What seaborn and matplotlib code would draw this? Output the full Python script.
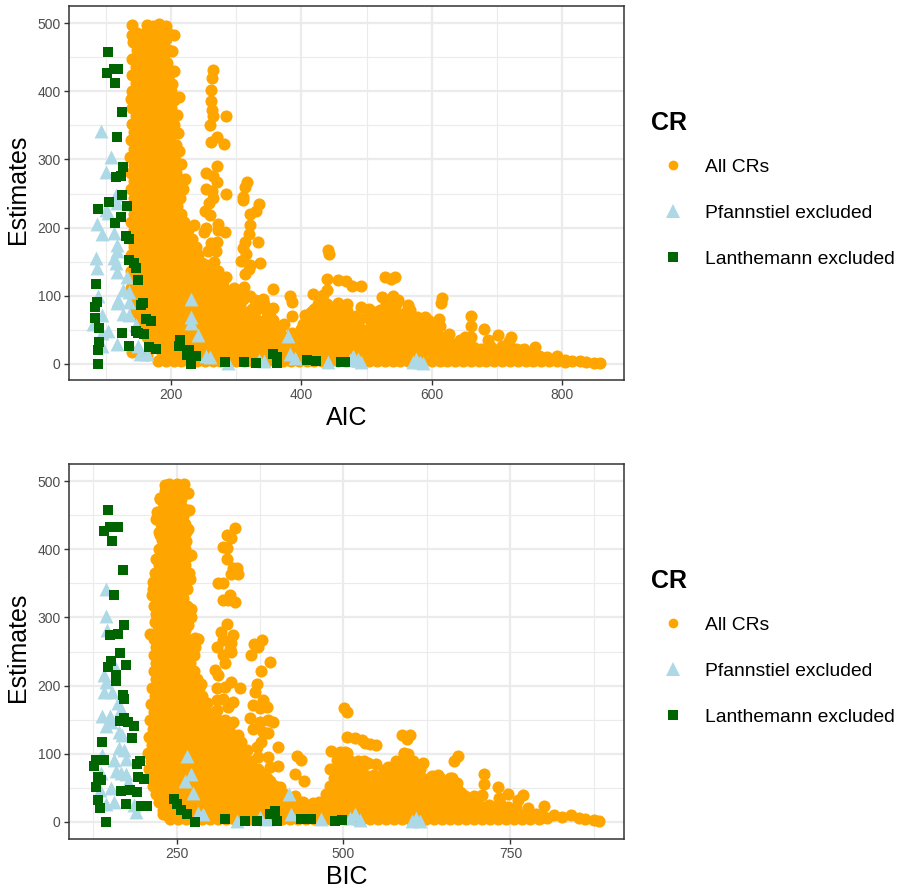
import pandas as pd
import seaborn as sns
import matplotlib.pyplot as plt
from matplotlib.lines import Line2D

# --- values ---

legend_labels = ["All CRs", "Pfannstiel excluded", "Lanthemann excluded"]
estimate_ticks = [0, 100, 200, 300, 400, 500]
estimate_minor = [50, 150, 250, 350, 450]
aic_ticks = [200, 400, 600, 800]
aic_minor = [100, 300, 500, 700]
bic_ticks = [250, 500, 750]
bic_minor = [125, 375, 625, 875]

# AIC panel, main band: (estimate, [AIC values at that estimate])
aic_band = [
    (485, [148, 160, 172, 184, 196]),
    (472, [142, 154, 166, 178, 190]),
    (460, [148, 160, 172, 184, 196]),
    (448, [141, 153, 165, 177, 189]),
    (436, [147, 159, 171, 183, 190]),
    (424, [140, 152, 164, 176, 188, 197]),
    (412, [146, 158, 170, 182, 194]),
    (400, [140, 152, 164, 176, 188, 200]),
    (388, [138, 146, 158, 170, 182, 194, 205]),
    (376, [140, 152, 164, 176, 188, 200]),
    (364, [146, 158, 170, 182, 194, 203]),
    (352, [140, 152, 164, 176, 188, 200]),
    (340, [144, 156, 168, 180, 192, 203]),
    (328, [139, 150, 162, 174, 186, 198]),
    (316, [144, 156, 168, 180, 192, 204]),
    (304, [137, 150, 162, 174, 186, 198]),
    (292, [144, 156, 168, 180, 192, 204]),
    (280, [138, 150, 162, 174, 186, 198, 208]),
    (268, [144, 156, 168, 180, 192, 204, 212]),
    (256, [139, 150, 162, 174, 186, 198, 210]),
    (244, [144, 156, 168, 180, 192, 204, 214]),
    (232, [140, 150, 162, 174, 186, 198, 210]),
    (220, [144, 156, 168, 180, 192, 204, 216]),
    (208, [138, 150, 162, 174, 186, 198, 210, 220]),
    (196, [144, 156, 168, 180, 192, 204, 216, 226]),
    (184, [138, 150, 162, 174, 186, 198, 210, 222, 232]),
    (172, [144, 156, 168, 180, 192, 204, 216, 228, 238]),
    (160, [138, 150, 162, 174, 186, 198, 210, 222, 234, 242]),
    (148, [144, 156, 168, 180, 192, 204, 216, 228, 240, 248]),
    (136, [139, 150, 162, 174, 186, 198, 210, 222, 234, 246]),
    (124, [144, 156, 168, 180, 192, 204, 216, 228, 240, 252, 262]),
    (112, [138, 150, 162, 174, 186, 198, 210, 222, 234, 246, 258, 270, 282]),
    (100, [144, 156, 168, 180, 192, 204, 216, 228, 240, 252, 264, 276, 288, 300]),
    (88, [140, 150, 162, 174, 186, 198, 210, 222, 234, 246, 258, 270, 282, 294, 306, 330, 342, 425, 440, 530, 545]),
    (76, [146, 158, 170, 182, 194, 206, 218, 230, 242, 254, 266, 278, 290, 302, 314, 326, 348, 415, 430, 445, 460, 515, 530, 545, 560]),
    (64, [152, 164, 176, 188, 200, 212, 224, 236, 248, 260, 272, 284, 296, 308, 320, 332, 344, 410, 423, 436, 449, 462, 475, 488, 505, 518, 531, 544, 557, 570, 583]),
    (52, [157, 170, 182, 194, 206, 218, 230, 242, 254, 266, 278, 290, 302, 314, 326, 338, 350, 368, 400, 413, 426, 439, 452, 465, 478, 491, 504, 517, 530, 543, 556, 569, 582, 595]),
    (40, [163, 176, 188, 200, 212, 224, 236, 248, 260, 272, 284, 296, 308, 320, 332, 344, 356, 368, 380, 392, 405, 418, 431, 444, 457, 470, 483, 496, 509, 522, 535, 548, 561, 574, 587, 600, 612]),
    (28, [172, 184, 196, 208, 220, 232, 244, 256, 268, 280, 292, 304, 316, 328, 340, 352, 364, 376, 388, 400, 412, 424, 436, 448, 460, 472, 484, 496, 508, 520, 532, 544, 556, 568, 580, 592, 604, 616, 628, 640]),
    (22, [646, 658, 670, 682, 694, 706, 718, 730, 742]),
    (16, [186, 198, 210, 222, 234, 246, 258, 270, 282, 294, 306, 318, 330, 342, 354, 366, 378, 390, 402, 414, 426, 438, 450, 462, 474, 486, 498, 510, 522, 534, 546, 558, 570, 582, 594, 606, 618, 630, 642, 654, 666, 678, 690, 702, 714, 726]),
    (10, [192, 204, 216, 228, 240, 252, 264, 276, 288, 300, 312, 324, 336, 348, 360, 372, 384, 396, 408, 420, 432, 444, 456, 468, 480, 492, 504, 516, 528, 540, 552, 564, 576, 588, 600, 612, 624, 636, 648, 660, 672, 684, 696, 708, 720, 732, 744, 756, 768]),
    (5, [180, 192, 204, 216, 228, 240, 252, 264, 276, 288, 300, 312, 324, 336, 348, 360, 372, 384, 396, 408, 420, 432, 444, 456, 468, 480, 492, 504, 516, 528, 540, 552, 564, 576, 588, 600, 612, 624, 636, 648, 660, 672, 684, 696, 708, 720, 732, 744, 756, 768]),
]

# AIC panel, loose points outside the band
aic_loose = [
    (140, 497), (141, 482), (164, 497), (172, 495), (182, 498), (193, 496), (205, 482), (192, 476),
    (202, 459), (194, 441), (205, 430), (202, 411), (213, 392), (204, 387), (210, 365), (205, 350),
    (211, 339), (208, 321), (213, 313), (206, 306), (216, 294), (209, 291), (221, 271), (206, 275),
    (218, 256), (265, 431), (263, 419), (261, 402), (262, 385), (263, 373), (264, 363), (284, 363),
    (260, 350), (271, 333), (261, 326), (282, 322), (271, 291), (254, 280), (265, 275), (270, 267),
    (253, 257), (263, 254), (284, 249), (316, 267), (313, 260), (311, 245), (264, 243), (335, 235),
    (331, 224), (322, 220), (311, 240), (258, 236), (252, 224), (260, 219), (235, 204), (254, 199),
    (250, 194), (272, 206), (272, 196), (283, 194), (321, 204), (320, 191), (334, 179), (314, 179),
    (311, 170), (315, 162), (271, 179), (262, 177), (257, 165), (269, 165), (308, 151), (321, 145),
    (336, 148), (319, 140), (314, 132), (441, 167), (442, 161), (439, 125), (457, 123), (356, 110),
    (312, 113), (309, 106), (280, 121), (269, 125), (266, 150), (255, 145), (257, 135), (242, 125),
    (329, 94), (341, 96), (383, 99), (385, 91), (356, 82), (386, 70), (418, 103), (439, 108),
    (433, 101), (419, 80), (439, 84), (457, 89), (275, 94), (290, 94), (300, 89), (324, 81),
    (332, 81), (270, 74), (285, 72), (298, 69), (319, 69), (316, 54), (337, 62), (347, 52),
    (367, 42), (403, 59), (418, 69), (469, 122), (477, 115), (492, 115), (528, 127), (543, 127),
    (538, 124), (523, 98), (541, 99), (548, 94), (564, 87), (566, 79), (492, 84), (504, 81),
    (470, 88), (484, 70), (520, 79), (616, 97), (614, 89), (660, 71), (661, 55), (680, 52),
    (701, 42), (722, 39), (686, 35), (718, 33), (708, 26), (758, 25), (736, 21), (651, 39),
    (661, 40), (590, 69), (611, 66), (626, 44), (577, 69), (595, 65), (613, 55), (644, 35),
    (664, 25), (613, 40), (634, 30), (748, 14), (764, 12), (777, 10), (792, 11), (805, 6),
    (815, 5), (827, 4), (836, 3), (849, 2), (858, 2), (140, 18), (163, 13), (191, 10),
    (780, 5), (792, 4), (804, 3), (740, 14), (650, 27), (675, 22), (690, 27), (600, 56),
    # filling the dense patches
    (258, 112), (272, 136), (284, 128), (296, 112), (310, 96), (322, 100), (336, 88), (352, 70),
    (362, 56), (374, 58), (386, 46), (470, 78), (500, 70), (575, 58), (606, 46), (624, 34),
    (455, 75), (405, 72), (540, 80), (555, 70), (590, 50), (356, 64), (366, 30), (410, 46),
]

aic_pfann = [
    (92, 342), (108, 303), (100, 281), (115, 248), (117, 236), (104, 221), (101, 226), (87, 205),
    (94, 190), (113, 192), (117, 175), (118, 165), (113, 156), (85, 155), (87, 141), (115, 148),
    (118, 135), (132, 128), (127, 108), (135, 106), (88, 99), (119, 94), (135, 91), (118, 89),
    (127, 74), (135, 72), (94, 72), (146, 57), (104, 49), (81, 59), (94, 45), (117, 30),
    (94, 27), (150, 26), (152, 14), (164, 14), (230, 96), (231, 69), (230, 60), (241, 42),
    (253, 11), (260, 10), (288, 1), (335, 6), (342, 4), (379, 41), (383, 14), (390, 9),
    (441, 3), (479, 11), (474, 6), (487, 8), (492, 3), (576, 8), (582, 3), (572, 3), (587, 2),
]

aic_lanth = [
    (103, 457), (112, 432), (119, 432), (102, 427), (114, 412), (125, 370), (117, 333), (126, 289),
    (123, 276), (116, 274), (125, 248), (105, 237), (88, 228), (133, 231), (123, 215), (114, 207),
    (131, 187), (136, 183), (135, 152), (143, 148), (146, 141), (149, 123), (85, 117), (86, 91),
    (83, 83), (157, 89), (154, 86), (83, 67), (90, 53), (162, 66), (169, 63), (125, 46),
    (146, 49), (150, 45), (158, 44), (90, 32), (88, 21), (136, 26), (167, 25), (177, 22),
    (214, 35), (213, 26), (227, 20), (224, 13), (239, 11), (231, 0), (88, 0), (283, 3),
    (312, 3), (330, 2), (357, 14), (362, 10), (363, 1), (409, 6), (422, 5), (461, 3), (467, 3),
]

# BIC panel, main band
bic_band = [
    (485, [232, 242, 252, 260]),
    (473, [226, 236, 246, 256]),
    (461, [230, 240, 250, 260]),
    (449, [222, 232, 242, 252, 260]),
    (437, [227, 237, 247, 257, 263]),
    (425, [224, 234, 244, 254, 264]),
    (413, [228, 238, 248, 258]),
    (401, [224, 234, 244, 254, 262]),
    (389, [228, 238, 248, 258, 266]),
    (377, [224, 234, 244, 254, 262]),
    (365, [218, 228, 238, 248, 258, 264]),
    (353, [222, 232, 242, 252, 262]),
    (341, [215, 225, 235, 245, 255, 265]),
    (329, [220, 230, 240, 250, 260]),
    (317, [216, 226, 236, 246, 256, 266]),
    (305, [220, 230, 240, 250, 260, 268]),
    (293, [218, 228, 238, 248, 258, 266]),
    (281, [222, 232, 242, 252, 262]),
    (269, [216, 226, 236, 246, 256, 266]),
    (257, [220, 230, 240, 250, 260, 270]),
    (245, [216, 226, 236, 246, 256, 266, 276]),
    (233, [220, 230, 240, 250, 260, 270]),
    (221, [216, 226, 236, 246, 256, 266, 276]),
    (209, [220, 230, 240, 250, 260, 270, 280]),
    (197, [214, 224, 234, 244, 254, 264, 274, 284]),
    (185, [218, 228, 238, 248, 258, 268, 278, 288]),
    (173, [212, 222, 232, 242, 252, 262, 272, 282, 292]),
    (161, [216, 226, 236, 246, 256, 266, 276, 286, 296]),
    (149, [211, 221, 231, 241, 251, 261, 271, 281, 291, 301, 312, 322]),
    (137, [215, 225, 235, 245, 255, 265, 275, 285, 295, 305, 316, 328]),
    (125, [209, 219, 229, 239, 249, 259, 269, 279, 289, 299, 309, 320, 332]),
    (113, [213, 223, 233, 243, 253, 263, 273, 283, 293, 303, 313, 323, 333, 345]),
    (101, [207, 217, 227, 237, 247, 257, 267, 277, 287, 297, 307, 317, 327, 337, 350, 505, 590]),
    (89, [212, 222, 232, 242, 252, 262, 272, 282, 292, 302, 312, 322, 332, 342, 352, 362, 497, 510, 522, 578, 592, 604]),
    (77, [209, 219, 229, 239, 249, 259, 269, 279, 289, 299, 309, 319, 329, 339, 349, 359, 372, 490, 503, 516, 528, 570, 582, 594, 606]),
    (65, [213, 223, 233, 243, 253, 263, 273, 283, 293, 303, 313, 323, 333, 343, 353, 363, 373, 385, 486, 498, 510, 522, 534, 546, 558, 570, 582, 594, 606, 618, 630, 645, 660]),
    (53, [215, 227, 237, 247, 257, 267, 277, 287, 297, 307, 317, 327, 337, 347, 357, 367, 377, 387, 397, 480, 492, 504, 516, 528, 540, 552, 564, 576, 588, 600, 612, 624, 636, 648, 660, 668]),
    (41, [219, 231, 241, 251, 261, 271, 281, 291, 301, 311, 321, 331, 341, 351, 361, 371, 381, 391, 401, 411, 474, 486, 498, 510, 522, 534, 546, 558, 570, 582, 594, 606, 618, 630, 642, 654, 666, 678]),
    (29, [224, 236, 248, 260, 272, 284, 296, 308, 320, 332, 344, 356, 368, 380, 392, 404, 416, 428, 440, 464, 476, 488, 500, 512, 524, 536, 548, 560, 572, 584, 596, 608, 620, 632, 644, 656, 668, 680, 692]),
    (22, [452, 698, 710, 722, 734, 746, 758]),
    (17, [230, 242, 254, 266, 278, 290, 302, 314, 326, 338, 350, 362, 374, 386, 398, 410, 422, 434, 446, 458, 470, 482, 494, 506, 518, 530, 542, 554, 566, 578, 590, 602, 614, 626, 638, 650, 662, 674, 686, 698, 710, 722, 734, 746]),
    (10, [236, 248, 260, 272, 284, 296, 308, 320, 332, 344, 356, 368, 380, 392, 404, 416, 428, 440, 452, 464, 476, 488, 500, 512, 524, 536, 548, 560, 572, 584, 596, 608, 620, 632, 644, 656, 668, 680, 692, 704, 716, 728, 740, 752, 764, 776, 788]),
    (5, [240, 252, 264, 276, 288, 300, 312, 324, 336, 348, 360, 372, 384, 396, 408, 420, 432, 444, 456, 468, 480, 492, 504, 516, 528, 540, 552, 564, 576, 588, 600, 612, 624, 636, 648, 660, 672, 684, 696, 708, 720, 732, 744, 756, 768, 780, 792]),
]

# BIC panel, loose points
bic_loose = [
    (232, 494), (238, 496), (250, 496), (261, 496), (267, 483), (255, 472), (269, 457), (225, 475),
    (221, 455), (220, 445), (267, 430), (225, 421), (264, 412), (271, 391), (219, 386), (269, 365),
    (270, 357), (215, 352), (214, 333), (272, 313), (271, 301), (267, 289), (210, 276), (277, 270),
    (282, 269), (277, 257), (337, 431), (325, 421), (331, 417), (320, 403), (325, 402), (325, 385),
    (334, 373), (340, 373), (331, 363), (342, 363), (312, 350), (320, 350), (330, 333), (319, 325),
    (327, 325), (337, 322), (325, 291), (316, 279), (335, 274), (320, 267), (332, 262), (311, 257),
    (330, 254), (378, 267), (366, 261), (372, 256), (362, 245), (320, 245), (332, 250), (390, 235),
    (377, 221), (322, 233), (307, 223), (312, 216), (371, 203), (331, 206), (345, 196), (310, 196),
    (322, 198), (367, 191), (287, 203), (380, 179), (365, 172), (375, 167), (385, 169), (310, 179),
    (320, 181), (335, 176), (327, 169), (310, 164), (295, 175), (360, 152), (387, 150), (395, 146),
    (375, 146), (335, 146), (365, 136), (380, 132), (387, 131), (347, 118), (377, 118), (370, 110),
    (402, 110), (430, 97), (436, 91), (387, 96), (390, 81), (402, 82), (427, 70), (441, 60),
    (482, 104), (495, 103), (480, 78), (490, 91), (501, 167), (505, 162), (587, 128), (600, 128),
    (595, 121), (505, 125), (517, 123), (527, 120), (532, 116), (540, 115), (549, 113), (502, 103),
    (590, 99), (597, 99), (671, 97), (665, 90), (530, 90), (537, 86), (549, 85), (619, 86),
    (567, 81), (605, 81), (615, 77), (585, 79), (711, 71), (710, 55), (731, 52), (747, 41),
    (769, 39), (762, 32), (733, 35), (735, 28), (800, 24), (777, 20), (707, 40), (695, 38),
    (632, 68), (642, 69), (662, 65), (670, 57), (675, 44), (567, 63), (545, 69), (510, 89),
    (800, 8), (815, 10), (827, 8), (840, 10), (852, 6), (862, 5), (875, 3), (882, 2), (230, 12),
    (760, 15), (775, 12), (788, 12), (805, 6), (405, 22), (420, 30), (450, 20), (700, 30), (718, 25),
    # filling the dense patches
    (302, 125), (342, 128), (355, 105), (348, 92), (372, 96), (376, 72), (390, 60), (405, 52),
    (415, 34), (428, 38), (520, 72), (535, 68), (555, 60), (600, 74), (620, 58), (650, 55),
    (682, 38), (560, 76), (500, 52), (455, 28),
]

bic_pfann = [
    (145, 342), (144, 302), (146, 281), (155, 233), (141, 216), (145, 206), (142, 190), (153, 191),
    (162, 174), (167, 165), (138, 155), (150, 155), (145, 141), (152, 147), (164, 132), (168, 127),
    (138, 98), (164, 108), (171, 105), (157, 91), (175, 92), (159, 75), (167, 72), (175, 71),
    (137, 72), (177, 59), (152, 50), (135, 47), (157, 29), (145, 27), (189, 14), (186, 25),
    (266, 97), (272, 70), (262, 60), (275, 42), (282, 13), (289, 11), (340, 2), (375, 7),
    (385, 5), (418, 41), (421, 12), (467, 4), (517, 11), (510, 6), (525, 3), (608, 6), (602, 1), (615, 1),
]

bic_lanth = [
    (148, 457), (150, 432), (162, 432), (142, 427), (153, 412), (170, 369), (157, 333), (171, 289),
    (163, 276), (151, 274), (165, 248), (152, 236), (148, 228), (175, 230), (159, 216), (159, 207),
    (170, 186), (172, 181), (172, 152), (165, 148), (177, 147), (186, 141), (184, 123), (138, 117),
    (130, 91), (142, 91), (127, 82), (196, 89), (191, 85), (132, 66), (137, 61), (129, 52),
    (193, 66), (201, 63), (167, 45), (180, 47), (191, 44), (133, 32), (136, 21), (175, 26),
    (197, 24), (206, 24), (246, 34), (250, 26), (257, 17), (265, 11), (278, 0), (144, 0),
    (323, 4), (352, 2), (370, 1), (390, 12), (397, 16), (401, 1), (437, 5), (452, 5), (487, 2), (498, 3),
]


def make_frame(band, loose):
    pairs = [(x, est) for est, xs in band for x in xs] + list(loose)
    return pd.DataFrame(pairs, columns=["score", "estimate"])


aic_all = make_frame(aic_band, aic_loose)
aic_p = make_frame([], aic_pfann)
aic_l = make_frame([], aic_lanth)
bic_all = make_frame(bic_band, bic_loose)
bic_p = make_frame([], bic_pfann)
bic_l = make_frame([], bic_lanth)

# --- plot ---

sns.set_theme(style="white")
plt.rcParams["font.family"] = ["Liberation Sans", "DejaVu Sans"]
plt.rcParams["text.color"] = "black"

fig = plt.figure(figsize=(9.01, 8.89), dpi=100)
ax1 = fig.add_axes([69 / 901, (889 - 380) / 889, 555 / 901, 374 / 889])
ax2 = fig.add_axes([69 / 901, (889 - 839) / 889, 555 / 901, 375 / 889])

panels = [
    (ax1, aic_all, aic_p, aic_l, "AIC", aic_ticks, aic_minor, (43.6, 895), (-23.5, 525), 0.8746),
    (ax2, bic_all, bic_p, bic_l, "BIC", bic_ticks, bic_minor, (89, 920), (-25, 525), 0.3596),
]

for ax, all_cr, pf, la, label, ticks, minor, xlim, ylim, legend_y in panels:
    sns.scatterplot(data=all_cr, x="score", y="estimate", ax=ax, color="orange",
                    marker="o", s=76, linewidth=0, alpha=1, legend=False)
    sns.scatterplot(data=pf, x="score", y="estimate", ax=ax, color="lightblue",
                    marker="^", s=100, linewidth=0, alpha=1, legend=False)
    sns.scatterplot(data=la, x="score", y="estimate", ax=ax, color="darkgreen",
                    marker="s", s=52, linewidth=0, alpha=1, legend=False)

    ax.set_xlim(xlim)
    ax.set_ylim(ylim)
    ax.set_xticks(ticks)
    ax.set_xticks(minor, minor=True)
    ax.set_yticks(estimate_ticks)
    ax.set_yticks(estimate_minor, minor=True)
    ax.set_axisbelow(True)
    ax.grid(which="major", color="#EBEBEB", linewidth=1.6)
    ax.grid(which="minor", color="#EBEBEB", linewidth=0.8)
    ax.tick_params(which="major", length=3.5, width=1, color="#333333",
                   labelcolor="#4D4D4D", labelsize=10, bottom=True, left=True, pad=2.5)
    ax.tick_params(which="minor", length=0)
    for side in ax.spines.values():
        side.set_color("#333333")
        side.set_linewidth(1.1)
    ax.set_xlabel(label, fontsize=18, color="black", labelpad=3)
    ax.set_ylabel("Estimates", fontsize=18, color="black", labelpad=5, y=0.51)

    handles = [
        Line2D([], [], linestyle="none", marker="o", color="orange", markersize=7, markeredgewidth=0),
        Line2D([], [], linestyle="none", marker="^", color="lightblue", markersize=10, markeredgewidth=0),
        Line2D([], [], linestyle="none", marker="s", color="darkgreen", markersize=7.2, markeredgewidth=0),
    ]
    leg = ax.legend(handles, legend_labels, title="CR", loc="upper left", frameon=False,
                    bbox_to_anchor=(651 / 901, legend_y), bbox_transform=fig.transFigure,
                    fontsize=13.9, title_fontproperties={"size": 18, "weight": "bold"},
                    alignment="left", borderpad=0, borderaxespad=0, labelspacing=1.48,
                    handlelength=2.28, handletextpad=0.52)
    leg._legend_box.sep = leg._legend_box.sep - 4

fig.savefig("out.png", dpi=100)
